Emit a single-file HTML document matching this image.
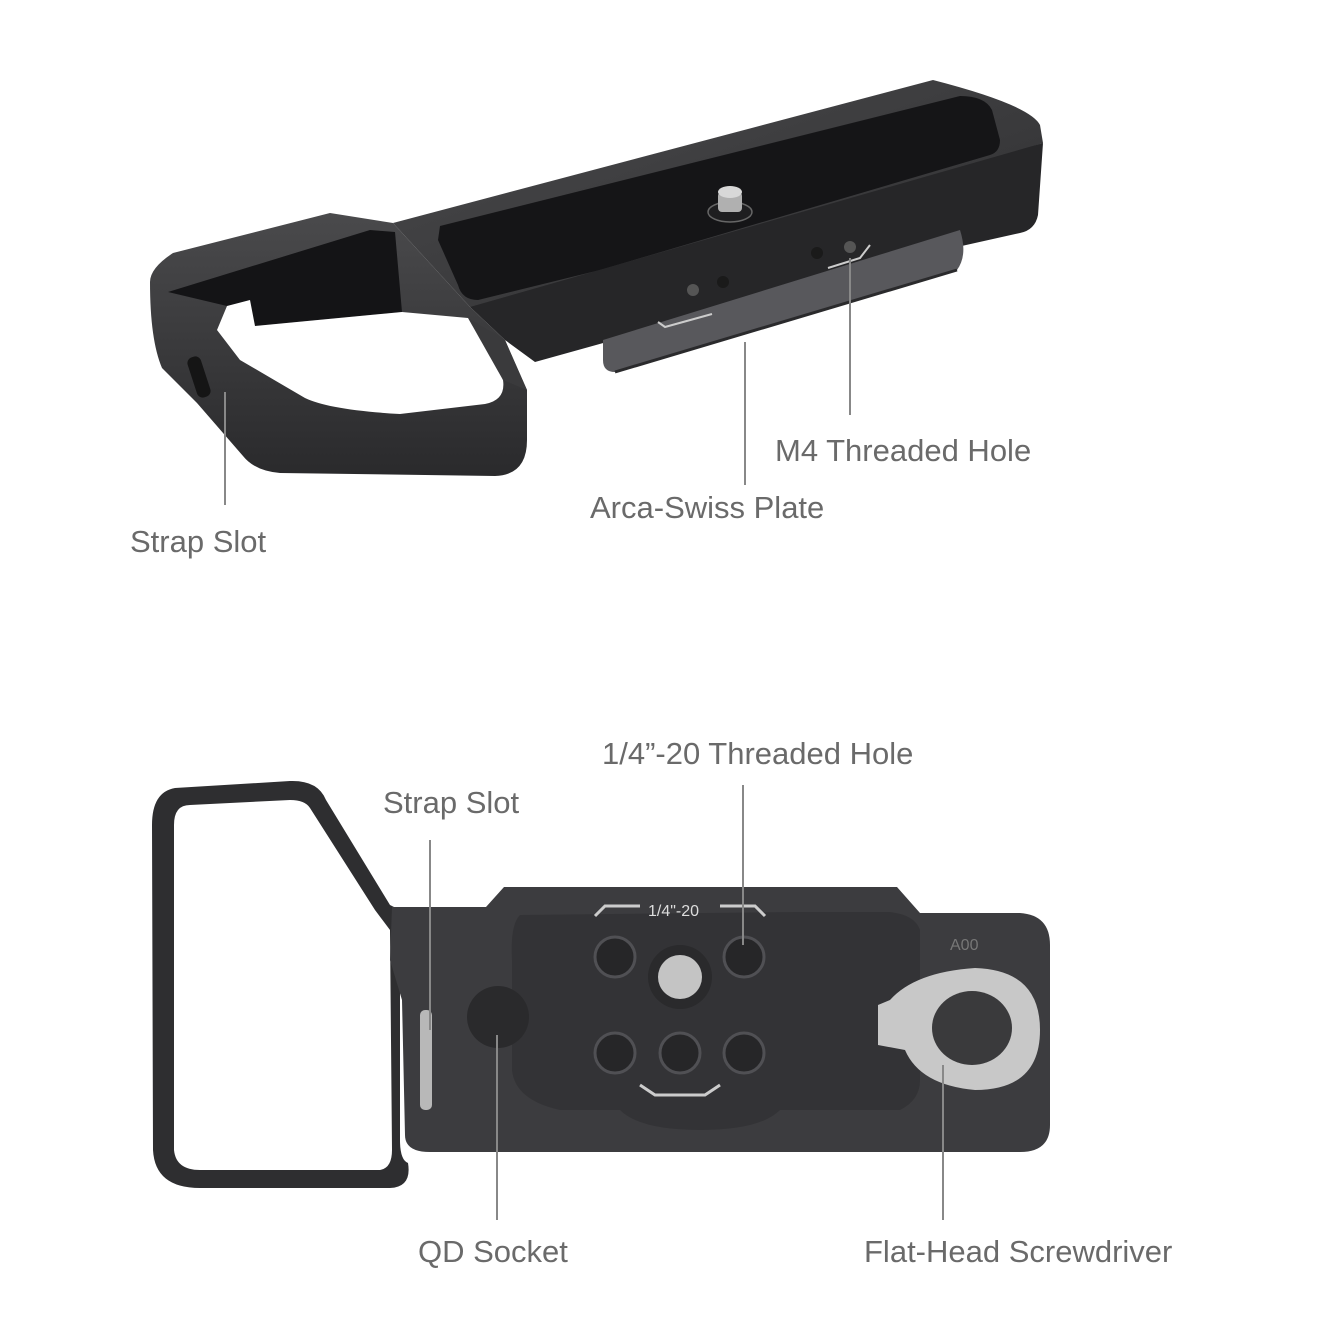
<!DOCTYPE html>
<html><head><meta charset="utf-8"><style>
html,body{margin:0;padding:0;background:#fff;}
svg{display:block}
text{font-family:"Liberation Sans",sans-serif;fill:#6a6a6a;font-size:31px;}
</style></head><body>
<svg width="1344" height="1344" viewBox="0 0 1344 1344" xmlns="http://www.w3.org/2000/svg">
<defs>
<linearGradient id="g1" x1="0" y1="0" x2="1" y2="1"><stop offset="0" stop-color="#4a4a4c"/><stop offset="1" stop-color="#2e2e30"/></linearGradient>
<linearGradient id="g2" x1="0" y1="0" x2="0" y2="1"><stop offset="0" stop-color="#4a4a4c"/><stop offset="1" stop-color="#2a2a2c"/></linearGradient>
</defs>
<!-- TOP PRODUCT -->
<!-- top face -->
<path d="M393,223 L933,80 Q1030,105 1040,125 L1043,143 L520,313 L470,307 Z" fill="url(#g1)"/>
<!-- pad -->
<path d="M440,226 L960,96 Q985,96 992,110 L1000,140 Q1000,152 990,155 L600,270 L478,300 Q462,300 458,285 L438,240 Z" fill="#151517"/>
<!-- front face -->
<path d="M470,307 L1043,143 L1038,215 Q1035,230 1020,233 L890,262 L657,328 L535,362 L505,340 Z" fill="#262628"/>
<!-- arca plate -->
<path d="M603,340 L960,230 Q968,255 957,270 L615,372 Q603,372 603,360 Z" fill="#58585c"/>
<path d="M615,372 L957,270" stroke="#2a2a2c" stroke-width="3"/>
<path d="M658,322 L665,327 L712,314 M828,268 L860,258 L870,245" stroke="#ccc" stroke-width="2" fill="none"/>
<!-- screw -->
<ellipse cx="730" cy="212" rx="22" ry="10" fill="#1e1e20" stroke="#666" stroke-width="1.5"/>
<rect x="718" y="192" width="24" height="20" rx="4" fill="#b0b0b0"/>
<ellipse cx="730" cy="192" rx="12" ry="6" fill="#d8d8d8"/>
<circle cx="693" cy="290" r="6" fill="#555"/><circle cx="723" cy="282" r="6" fill="#1a1a1a"/>
<circle cx="817" cy="253" r="6" fill="#1a1a1a"/><circle cx="850" cy="247" r="6" fill="#555"/>
<!-- loop frame -->
<path d="M150,282 Q150,268 173,253 L330,213 L393,223 L470,307 L505,340 L527,390 L527,440 Q527,475 495,476 L280,473 Q255,471 243,456 L197,403 L162,368 Q150,340 150,282 Z" fill="url(#g2)"/>
<polygon points="168,292 370,230 395,232 402,312 255,326 227,306" fill="#141416"/>
<path d="M227,306 L250,300 L255,326 L402,312 L468,318 Q482,330 503,380 Q506,400 485,404 L400,414 Q330,410 305,398 L240,360 L217,330 Z" fill="#fff"/>
<path d="M468,318 L505,340 L527,390 L503,380 Z" fill="#3a3a3c"/>
<rect x="192" y="356" width="14" height="42" rx="6" fill="#151515" transform="rotate(-18 199 377)"/>
<!-- top labels -->
<line x1="225" y1="392" x2="225" y2="505" stroke="#888" stroke-width="2"/>
<text x="130" y="552">Strap Slot</text>
<line x1="745" y1="342" x2="745" y2="485" stroke="#888" stroke-width="2"/>
<text x="590" y="518">Arca-Swiss Plate</text>
<line x1="850" y1="258" x2="850" y2="415" stroke="#888" stroke-width="2"/>
<text x="775" y="461">M4 Threaded Hole</text>

<!-- BOTTOM PRODUCT -->
<path d="M175,788 L290,781 Q318,780 326,800 L390,905 L400,910 L400,1140 Q400,1160 408,1163 Q412,1187 390,1188 L200,1188 Q155,1188 153,1150 L152,825 Q152,792 175,788 Z M190,805 Q174,805 174,825 L174,1150 Q176,1170 200,1170 L380,1170 Q392,1168 392,1150 L390,930 L375,910 L310,808 Q305,800 290,800 Z" fill="#2e2e30" fill-rule="evenodd"/>
<path d="M392,907 L486,907 L504,887 L897,887 L920,913 L1020,913 Q1050,915 1050,945 L1050,1125 Q1050,1152 1020,1152 L430,1152 Q405,1152 405,1135 L402,1000 L390,960 Z" fill="#3c3c3f"/>
<path d="M520,915 Q510,925 512,960 L512,1070 Q515,1100 560,1110 L620,1110 Q640,1130 700,1130 Q760,1130 780,1110 L900,1110 Q920,1100 920,1080 L920,930 Q915,915 890,912 L800,912 Z" fill="#333336"/>
<circle cx="498" cy="1017" r="31" fill="#2a2a2c"/>
<g fill="#262628" stroke="#505054" stroke-width="3">
<circle cx="615" cy="957" r="20"/><circle cx="744" cy="957" r="20"/>
<circle cx="615" cy="1053" r="20"/><circle cx="680" cy="1053" r="20"/><circle cx="744" cy="1053" r="20"/>
</g>
<circle cx="680" cy="977" r="32" fill="#2a2a2c"/>
<circle cx="680" cy="977" r="22" fill="#c4c4c4"/>
<path d="M595,916 L605,906 L640,906 M720,906 L755,906 L765,916 M640,1085 L655,1095 L705,1095 L720,1085" stroke="#ccc" stroke-width="3" fill="none"/>
<text x="648" y="916" style="font-size:16px;fill:#ddd">1/4"-20</text>
<text x="950" y="950" style="font-size:16px;fill:#777">A00</text>
<path d="M890,1000 Q915,972 975,968 Q1040,970 1040,1030 Q1040,1090 975,1090 Q920,1085 905,1050 L878,1045 L878,1005 Z" fill="#c8c8c8"/>
<ellipse cx="972" cy="1028" rx="40" ry="37" fill="#3a3a3c"/>
<rect x="420" y="1010" width="12" height="100" rx="5" fill="#b8b8b8"/>
<!-- bottom labels -->
<line x1="743" y1="785" x2="743" y2="945" stroke="#888" stroke-width="2"/>
<text x="602" y="764">1/4”-20 Threaded Hole</text>
<line x1="430" y1="840" x2="430" y2="1030" stroke="#888" stroke-width="2"/>
<text x="383" y="813">Strap Slot</text>
<line x1="497" y1="1035" x2="497" y2="1220" stroke="#888" stroke-width="2"/>
<text x="418" y="1262">QD Socket</text>
<line x1="943" y1="1065" x2="943" y2="1220" stroke="#888" stroke-width="2"/>
<text x="864" y="1262">Flat-Head Screwdriver</text>
</svg>
</body></html>
